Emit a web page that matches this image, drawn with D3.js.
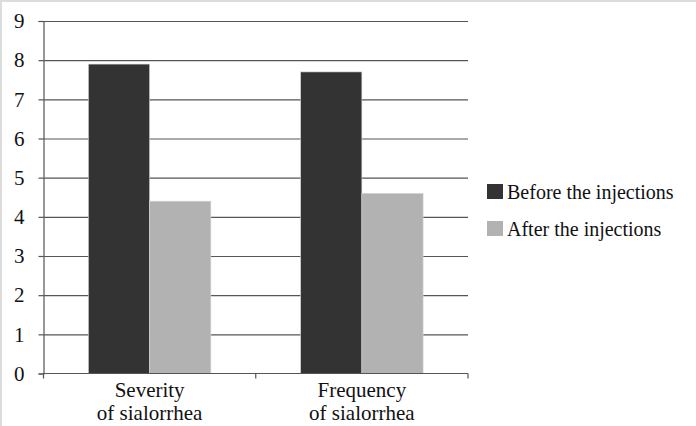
<!DOCTYPE html>
<html>
<head>
<meta charset="utf-8">
<script src="https://cdn.jsdelivr.net/npm/d3@7"></script>
<style>
  html, body { margin: 0; padding: 0; background: #fff; }
  svg { display: block; }
  text { font-family: "Liberation Serif", "Times New Roman", serif; fill: #111; }
</style>
</head>
<body>
<svg id="chart" width="696" height="426"></svg>
<script>
const categories = ["Severity\nof sialorrhea", "Frequency\nof sialorrhea"];
const seriesNames = ["Before the injections", "After the injections"];
const beforeValues = [7.9, 7.7];
const afterValues = [4.4, 4.6];
const yTicks = [0, 1, 2, 3, 4, 5, 6, 7, 8, 9];
const colors = ["#333333", "#b2b2b2"];

(function () {
const seriesValues = [beforeValues, afterValues];
const data = categories.map((c, i) => ({
  cat: c,
  vals: seriesNames.map((s, j) => ({ series: s, value: seriesValues[j][i] }))
}));

const svg = d3.select("#chart");
const W = 696, H = 426;

// frame (top and left light border)
svg.append("line").attr("x1", 0).attr("x2", W).attr("y1", 1).attr("y2", 1)
  .attr("stroke", "#dcdcdc").attr("stroke-width", 2);
svg.append("line").attr("x1", 1).attr("x2", 1).attr("y1", 0).attr("y2", H)
  .attr("stroke", "#dcdcdc").attr("stroke-width", 2);

const mLeft = 43.5, mRight = 468, mTop = 21, mBottom = 373.5;

const x0 = d3.scaleBand().domain(categories).range([mLeft, mRight]).paddingInner(0).paddingOuter(0);
const x1 = d3.scaleBand().domain(seriesNames).range([0, x0.bandwidth()]).paddingInner(0).paddingOuter(0.733);
const y = d3.scaleLinear().domain([0, 9]).range([mBottom, mTop]);
const color = d3.scaleOrdinal().domain(seriesNames).range(colors);

// gridlines
const grid = svg.append("g").attr("transform", `translate(${mLeft},0)`)
  .call(d3.axisLeft(y).tickValues(yTicks.filter(t => t > 0)).tickSize(-(mRight - mLeft)).tickFormat(""));
grid.select(".domain").remove();
grid.selectAll(".tick line").attr("stroke", "#555").attr("stroke-width", 1.2);

// bars
const groups = svg.append("g").selectAll("g").data(data).join("g")
  .attr("transform", d => `translate(${x0(d.cat)},0)`);
groups.selectAll("rect").data(d => d.vals).join("rect")
  .attr("x", d => x1(d.series))
  .attr("width", x1.bandwidth())
  .attr("y", d => y(d.value))
  .attr("height", d => y(0) - y(d.value))
  .attr("fill", d => color(d.series))
  .attr("stroke", "#d8d8d8").attr("stroke-width", 0.6);

// y axis
const yAxis = svg.append("g").attr("transform", `translate(${mLeft},0)`)
  .call(d3.axisLeft(y).tickValues(yTicks).tickSize(5).tickPadding(14).tickFormat(d3.format("d")));
yAxis.select(".domain").attr("stroke", "#555").attr("stroke-width", 1.2);
yAxis.selectAll(".tick line").attr("stroke", "#555").attr("stroke-width", 1.2);
yAxis.selectAll(".tick text").style("font-family", '"Liberation Serif", serif').style("font-size", "21px").attr("fill", "#111");

// x axis baseline and ticks at category boundaries
const xAxisG = svg.append("g");
xAxisG.append("line").attr("x1", mLeft).attr("x2", mRight).attr("y1", y(0)).attr("y2", y(0))
  .attr("stroke", "#555").attr("stroke-width", 1.2);
const boundaries = categories.map(c => x0(c)).concat([x0(categories[categories.length - 1]) + x0.bandwidth()]);
xAxisG.selectAll("line.tk").data(boundaries).join("line").attr("class", "tk")
  .attr("x1", d => d).attr("x2", d => d).attr("y1", y(0)).attr("y2", y(0) + 5)
  .attr("stroke", "#555").attr("stroke-width", 1.2);

// category labels
const labels = svg.append("g").selectAll("text").data(categories).join("text")
  .attr("x", d => x0(d) + x0.bandwidth() / 2)
  .attr("y", y(0) + 23)
  .attr("text-anchor", "middle")
  .style("font-size", "21px");
labels.selectAll("tspan").data(d => d.split("\n")).join("tspan")
  .attr("x", function() { return d3.select(this.parentNode).attr("x"); })
  .attr("dy", (d, i) => i === 0 ? 0 : 23)
  .text(d => d);

// legend
const legend = svg.append("g").selectAll("g").data(seriesNames).join("g")
  .attr("transform", (d, i) => `translate(487,${184 + i * 37})`);
legend.append("rect").attr("width", 16).attr("height", 15).attr("fill", d => color(d));
legend.append("text").attr("x", 20).attr("y", 15).style("font-size", "20px").text(d => d);
})();
</script>
</body>
</html>
